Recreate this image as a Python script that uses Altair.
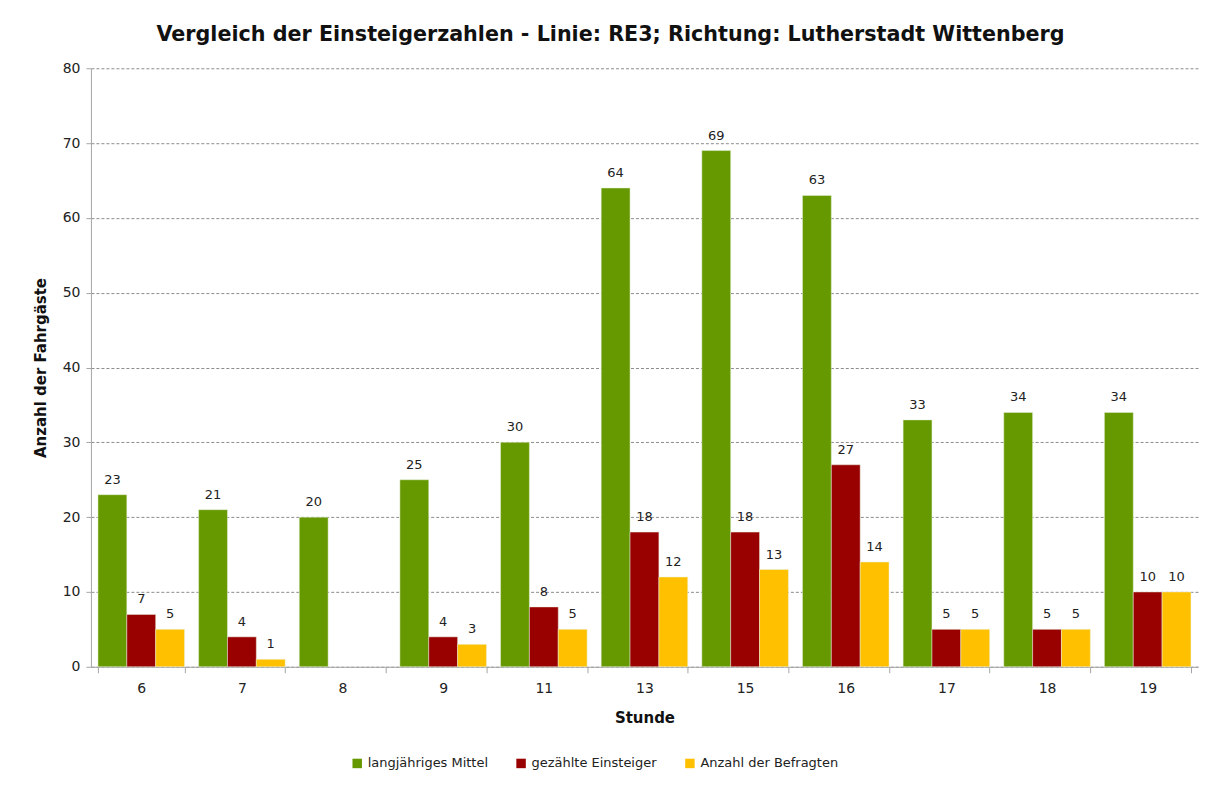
import altair as alt
import pandas as pd

hours = ["6", "7", "8", "9", "11", "13", "15", "16", "17", "18", "19"]
series = ["langjähriges Mittel", "gezählte Einsteiger", "Anzahl der Befragten"]
colors = ["#669900", "#990000", "#FFC000"]
mittel = [23, 21, 20, 25, 30, 64, 69, 63, 33, 34, 34]
gezaehlt = [7, 4, None, 4, 8, 18, 18, 27, 5, 5, 10]
befragt = [5, 1, None, 3, 5, 12, 13, 14, 5, 5, 10]

rows = []
for s, vals in zip(series, [mittel, gezaehlt, befragt]):
    for h, v in zip(hours, vals):
        if v is not None:
            rows.append({"Stunde": h, "Serie": s, "Wert": v})
df = pd.DataFrame(rows)

FONT = "DejaVu Sans"

base = alt.Chart(df).encode(
    x=alt.X(
        "Stunde:N",
        sort=hours,
        scale=alt.Scale(paddingInner=0.14, paddingOuter=0.07),
        axis=alt.Axis(
            title="Stunde",
            labelAngle=0,
            tickBand="extent",
            tickSize=6,
            labelPadding=9,
            labelFontSize=14,
            labelColor="#222222",
            titleFontSize=15,
            titleFontWeight="bold",
            titleColor="#111111",
            titlePadding=15,
            domainColor="#a6a6a6",
            tickColor="#a6a6a6",
            grid=False,
        ),
    ),
    xOffset=alt.XOffset("Serie:N", sort=series,
                        scale=alt.Scale(domain=series, paddingInner=0, paddingOuter=0)),
    y=alt.Y(
        "Wert:Q",
        scale=alt.Scale(domain=[0, 80]),
        axis=alt.Axis(
            title="Anzahl der Fahrgäste",
            values=[0, 10, 20, 30, 40, 50, 60, 70, 80],
            tickSize=5,
            labelPadding=6,
            labelFontSize=14,
            labelColor="#222222",
            titleFontSize=15,
            titleFontWeight="bold",
            titleColor="#111111",
            titlePadding=14,
            domainColor="#a6a6a6",
            tickColor="#a6a6a6",
            grid=True,
            gridDash=[3, 2],
            gridColor="#8c8c8c",
            gridWidth=1,
        ),
    ),
)

bars = base.mark_bar(stroke="#e8f0dc", strokeWidth=0.5).encode(
    color=alt.Color(
        "Serie:N",
        sort=series,
        scale=alt.Scale(domain=series, range=colors),
        legend=alt.Legend(
            title=None,
            orient="none",
            direction="horizontal",
            legendX=260,
            legendY=689,
            symbolType="square",
            symbolSize=90,
            symbolStrokeWidth=0,
            labelFontSize=13,
            labelColor="#222222",
            columnPadding=26,
            symbolOffset=0,
        ),
    )
)

labels = base.mark_text(baseline="bottom", dy=-8, fontSize=13, color="#222222", font=FONT).encode(
    text="Wert:Q"
)

chart = (
    alt.layer(bars, labels)
    .properties(
        width=1108,
        height=599,
        title=alt.TitleParams(
            "Vergleich der Einsteigerzahlen - Linie: RE3; Richtung: Lutherstadt Wittenberg",
            fontSize=20.7,
            fontWeight="bold",
            font=FONT,
            color="#111111",
            anchor="middle",
            dx=-34,
            offset=16,
        ),
        padding={"left": 25, "top": 15, "right": 5, "bottom": 5},
    )
    .configure(font=FONT)
    .configure_view(stroke=None)
)

chart.save("out.html", embed_options={"renderer": "svg", "actions": False})
